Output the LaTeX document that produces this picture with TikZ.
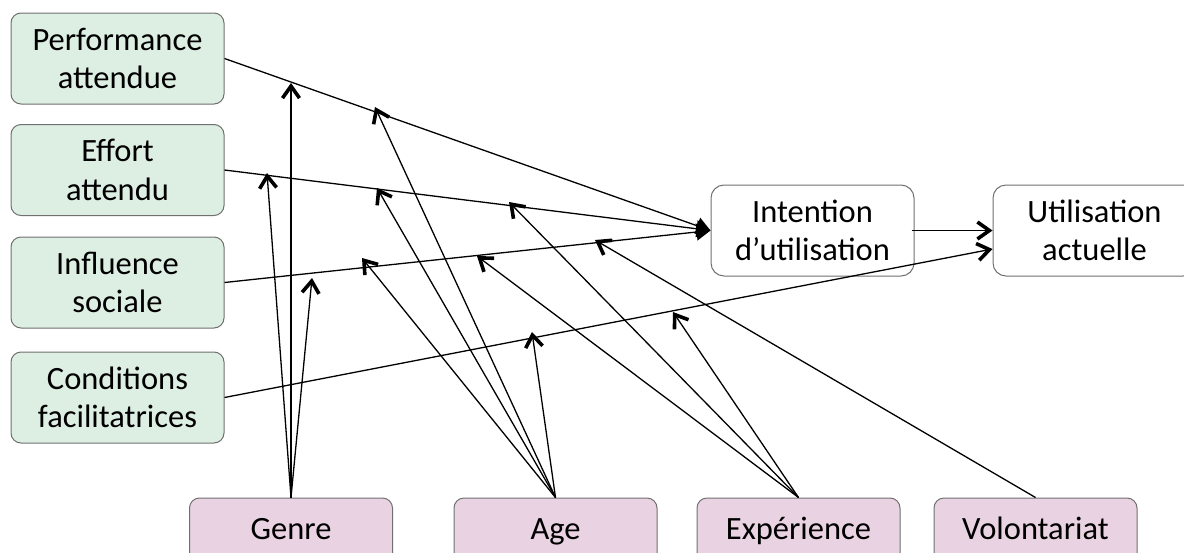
\documentclass[tikz,border=0pt]{standalone}
\usepackage{fontspec}
\setmainfont{Carlito}
\usetikzlibrary{arrows.meta}
\definecolor{boxgreen}{RGB}{221,238,227}
\definecolor{boxpink}{RGB}{233,210,226}
\definecolor{boxline}{RGB}{112,112,112}
\tikzset{
  base/.style={draw=boxline, line width=1pt, rounded corners=10pt, minimum width=213pt,
    minimum height=91pt, inner sep=0pt, align=center, font=\fontsize{32.5}{38.5}\selectfont},
  factor/.style={base, fill=boxgreen},
  outcome/.style={base, fill=white, minimum width=203pt, rounded corners=13pt},
  moder/.style={base, fill=boxpink, minimum width=203pt, minimum height=66pt,
    text height=22pt, text depth=6pt},
  link/.style={line width=1.3pt, black},
  modarrow/.style={link, -{Straight Barb[length=12pt,width=17pt,line width=3.6pt]}},
  mainarrow/.style={link, -{Triangle[length=14pt,width=17pt]}},
}
\begin{document}
\begin{tikzpicture}[x=1pt,y=-1pt]
\useasboundingbox (0,0) rectangle (1184,552);
% determinant boxes
\node[factor] (perf) at (117.5,58.5) {Performance\\attendue};
\node[factor] (eff)  at (117.5,170) {Effort\\attendu};
\node[factor] (infl) at (117.5,282.5) {Influence\\sociale};
\node[factor] (cond) at (117.5,397.5) {Conditions\\facilitatrices};
% outcome boxes
\node[outcome] (int) at (812.5,230.5) {Intention\\d’utilisation};
\node[outcome] (use) at (1094.5,230.5) {Utilisation\\actuelle};
% moderators
\node[moder] (gen) at (291,531) {Genre};
\node[moder] (age) at (555.5,531) {Age};
\node[moder] (exp) at (798.5,531) {Expérience};
\node[moder] (vol) at (1035.5,531) {Volontariat};
% main links
\draw[mainarrow] (perf.east) -- (int.west);
\draw[mainarrow] (eff.east) -- (int.west);
\draw[mainarrow] (infl.east) -- (int.west);
\draw[modarrow] ([xshift=-3pt]int.east) -- (use.west);
\draw[modarrow] (cond.east) -- ([yshift=-18.5pt]use.west);
% moderator targets
\coordinate (gperf) at (291,83);
\coordinate (geff)  at (267,173);
\coordinate (ginfl) at (312,278);
\coordinate (aperf) at (375,107);
\coordinate (aeff)  at (377,188);
\coordinate (ainfl) at (362,258);
\coordinate (acond) at (532,332);
\coordinate (eeff)  at (509,202);
\coordinate (einfl) at (477,256);
\coordinate (econd) at (673,312);
\coordinate (vinfl) at (595,240);
% moderator links
\draw[modarrow] (gen.north) -- (gperf);
\draw[modarrow] (gen.north) -- (geff);
\draw[modarrow] (gen.north) -- (ginfl);
\draw[modarrow] (age.north) -- (aperf);
\draw[modarrow] (age.north) -- (aeff);
\draw[modarrow] (age.north) -- (ainfl);
\draw[modarrow] (age.north) -- (acond);
\draw[modarrow] (exp.north) -- (eeff);
\draw[modarrow] (exp.north) -- (einfl);
\draw[modarrow] (exp.north) -- (econd);
\draw[modarrow] (vol.north) -- (vinfl);
\end{tikzpicture}
\end{document}
